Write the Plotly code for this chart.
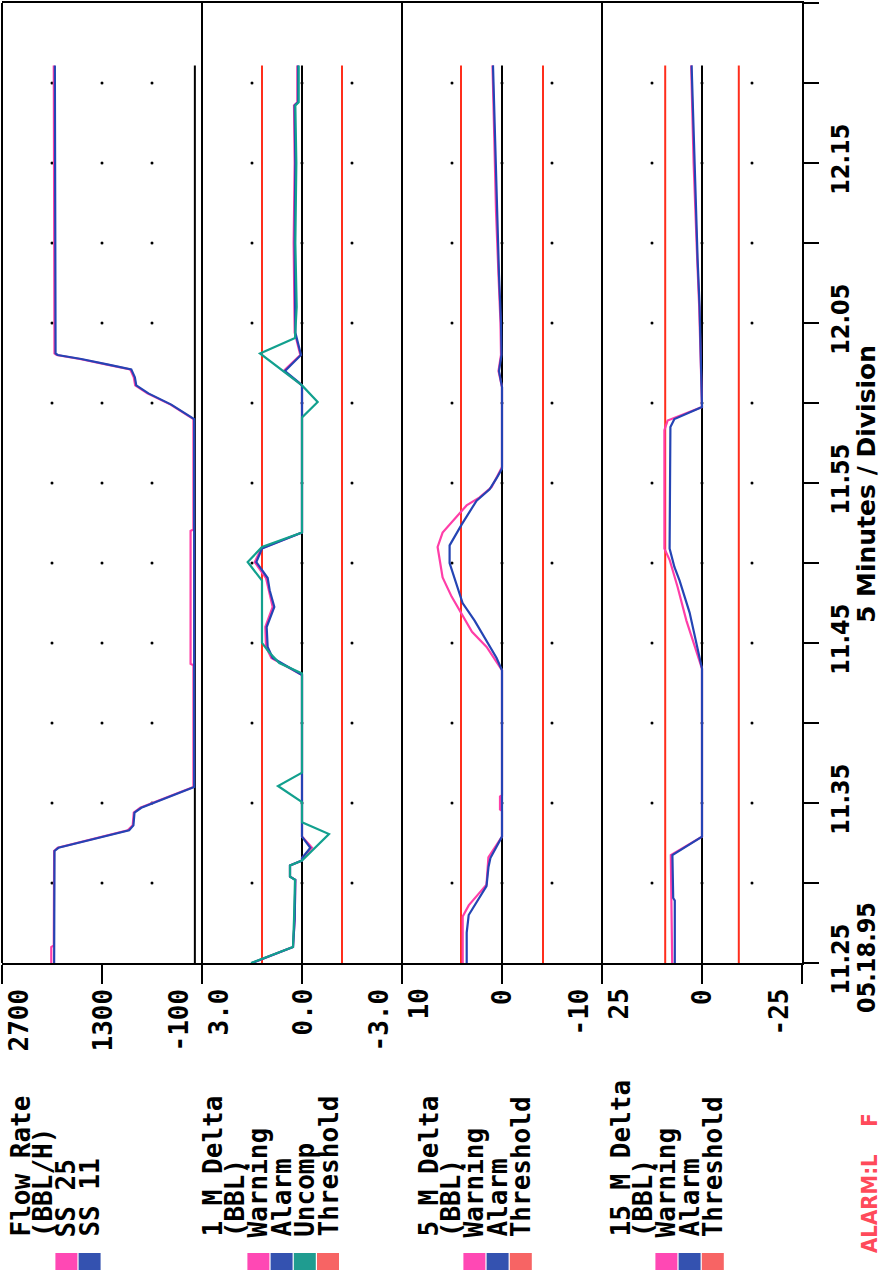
import pandas as pd
import plotly.graph_objects as go

# ---------------- data (time = minutes after 11:00 on 05.18.95) ----------------
flow_ss11_t = [25.0, 32.0, 32.2, 32.8, 33.3, 33.6, 34.4, 34.7, 35.2, 35.7, 36.0, 59.0, 59.9, 60.6,
               61.1, 61.6, 62.1, 62.4, 62.75, 63.0, 63.1, 81.1]
flow_ss11_v = [1970, 1965, 1910, 1380, 920, 860, 845, 750, 470, 190, 10, 10, 330, 650,
               820, 840, 890, 1210, 1590, 1920, 1950, 1960]
flow_ss25_t = [25.0, 26.0, 26.1, 32.0, 32.2, 32.8, 33.3, 33.6, 34.4, 34.7, 35.2, 35.7, 36.0, 43.6,
               43.7, 52.0, 52.1, 59.0, 59.9, 60.6, 61.1, 61.6, 62.1, 62.4, 62.75, 63.0, 63.1, 81.1]
flow_ss25_v = [2010, 2010, 1975, 1970, 1920, 1400, 940, 870, 855, 765, 480, 200, 20, 20,
               60, 60, 20, 20, 340, 665, 835, 855, 905, 1230, 1610, 1935, 1965, 1975]

d1_unc_t = [25.0, 26.0, 27.7, 30.2, 30.4, 31.1, 31.4, 33.06, 33.8, 35.06, 36.06, 36.9, 43.1, 43.75,
            44.4, 45.0, 48.9, 50.06, 51.0, 51.9, 59.1, 60.06, 61.1, 63.1, 64.06, 66.0, 70.0, 75.0,
            78.6, 78.8, 81.1]
d1_unc_v = [1.53, 0.27, 0.24, 0.21, 0.36, 0.36, 0.0, -0.81, 0.0, 0.0, 0.72, 0.0, 0.0, 0.68,
            0.98, 1.2, 1.2, 1.63, 1.2, 0.0, 0.0, -0.47, 0.0, 1.26, 0.21, 0.16, 0.2, 0.17,
            0.2, 0.1, 0.1]
d1_alarm_t = [25.0, 26.0, 27.7, 30.2, 30.4, 31.1, 31.4, 31.56, 32.2, 32.9, 43.0, 44.06, 44.75, 46.0,
              47.25, 48.3, 49.06, 50.06, 50.9, 51.9, 61.1, 61.3, 62.0, 63.0, 64.4, 70.0, 75.0,
              78.6, 78.8, 81.1]
d1_alarm_v = [1.5, 0.27, 0.22, 0.2, 0.36, 0.36, 0.0, 0.0, -0.25, 0.0, 0.0, 0.88, 1.03, 1.06,
              0.83, 0.97, 1.03, 1.37, 1.2, 0.0, 0.0, 0.1, 0.51, 0.03, 0.2, 0.22, 0.2,
              0.22, 0.12, 0.12]
d1_warn_t = [25.0, 26.0, 27.7, 30.2, 30.4, 31.1, 31.4, 31.56, 32.2, 32.9, 43.0, 44.06, 44.75, 46.0,
             47.25, 48.3, 49.06, 50.06, 50.9, 51.9, 61.1, 61.3, 62.0, 63.0, 64.4, 70.0, 75.0,
             78.6, 78.8, 81.1]
d1_warn_v = [1.5, 0.27, 0.22, 0.2, 0.36, 0.36, 0.0, 0.0, -0.3, 0.0, 0.0, 0.92, 1.08, 1.1,
             0.88, 1.0, 1.08, 1.42, 1.22, 0.0, 0.0, 0.12, 0.55, 0.05, 0.22, 0.25, 0.22,
             0.24, 0.14, 0.14]

d5_alarm_t = [25.0, 26.9, 28.0, 29.8, 31.0, 31.56, 32.9, 43.3, 44.06, 45.3, 46.4, 47.5, 48.1, 50.0,
              51.1, 52.4, 53.9, 54.6, 55.3, 55.9, 61.0, 62.0, 63.0, 65.0, 68.0, 72.0, 76.0, 79.0, 81.1]
d5_alarm_v = [3.53, 3.53, 3.33, 1.55, 1.35, 1.16, 0.0, 0.0, 0.54, 1.74, 2.74, 3.94, 4.24, 5.24,
              5.24, 4.04, 2.54, 1.24, 0.54, 0.0, 0.0, 0.3, 0.05, 0.1, 0.3, 0.5, 0.7, 0.8, 0.9]
d5_warn_t = [25.0, 27.9, 28.6, 29.9, 31.6, 32.9, 34.5, 34.6, 35.4, 35.5, 43.3, 44.75, 45.7, 47.06,
             47.9, 49.1, 51.0, 51.9, 52.9, 53.6, 54.1, 54.75, 55.7, 56.0, 61.0, 62.0, 63.0, 65.0,
             68.0, 72.0, 76.0, 79.0, 81.1]
d5_warn_v = [3.93, 3.93, 3.33, 1.55, 1.36, 0.0, 0.0, 0.2, 0.2, 0.0, 0.0, 1.54, 3.0, 4.24,
             5.04, 5.94, 6.44, 5.94, 4.54, 3.54, 2.24, 1.04, 0.24, 0.0, 0.0, 0.35, 0.1, 0.15,
             0.35, 0.6, 0.75, 0.85, 0.95]

d15_alarm_t = [25.0, 28.9, 29.06, 31.75, 32.9, 43.4, 46.9, 48.9, 49.75, 50.9, 58.5, 59.0, 59.75,
               63.0, 66.0, 69.0, 72.0, 75.0, 78.0, 81.1]
d15_alarm_v = [6.8, 6.8, 7.2, 7.4, 0.0, 0.0, 3.1, 5.6, 6.9, 8.1, 7.9, 6.9, 0.0,
               0.3, 0.6, 1.1, 1.5, 1.9, 2.3, 2.6]
d15_warn_t = [25.0, 30.6, 31.75, 32.9, 43.4, 46.4, 48.5, 50.2, 50.9, 58.3, 58.9, 59.75,
              63.0, 66.0, 69.0, 72.0, 75.0, 78.0, 81.1]
d15_warn_v = [7.45, 7.8, 7.8, 0.0, 0.0, 3.9, 6.1, 8.1, 9.4, 9.4, 8.6, 0.0,
              0.35, 0.7, 1.2, 1.7, 2.1, 2.4, 2.7]

data_span = [25.0, 81.1]
thresholds = [None, 1.2, 4.1, 9.2]

axis_ranges = [[2700, -100], [3.0, -3.0], [10, -10], [25, -25]]
axis_tickvals = [[2700, 1300, -100], [3.0, 0.0, -3.0], [10, 0, -10], [25, 0, -25]]
axis_ticktext = [["2700", "1300", "-100"], ["3.0", "0.0", "-3.0"], ["10", "0", "-10"], ["25", "0", "-25"]]
grid_vals = [[2000, 1300, 600], [1.5, 0.0, -1.5], [5, 0, -5], [12.5, 0, -12.5]]
grid_times = [30, 35, 40, 45, 50, 55, 60, 65, 70, 75, 80]

time_tickvals = [25, 30, 35, 40, 45, 50, 55, 60, 65, 70, 75, 80, 85]
time_ticktext = ["11.25", "", "11.35", "", "11.45", "", "11.55", "", "12.05", "", "12.15", "", ""]

legend_text = [["Flow Rate", "(BBL/H)", "SS 25", "SS 11"],
               ["1 M Delta", "(BBL)", "Warning", "Alarm", "Uncomp", "Threshold"],
               ["5 M Delta", "(BBL)", "Warning", "Alarm", "Threshold"],
               ["15 M Delta", "(BBL)", "Warning", "Alarm", "Threshold"]]

# ---------------- styling ----------------
PINK, BLUE, TEAL, RED = "#ff3ea8", "#2444b4", "#12a08e", "#ff2e1c"
SQ = {"pink": "#ff48b4", "blue": "#3452b0", "teal": "#1f9c90", "red": "#f76464"}
legend_sq = [["pink", "blue"], ["pink", "blue", "teal", "red"], ["pink", "blue", "red"], ["pink", "blue", "red"]]

W, H = 885, 1277
L, R, T, B = 2, 83, 3, 314
PW, PH = W - L - R, H - T - B
BASE = pd.Timestamp("1995-05-18 11:00")


def tm(mins):
    return [BASE + pd.Timedelta(minutes=m) for m in mins]


def px(x):
    return (x - L) / PW


def py(y):
    return (H - B - y) / PH


fig = go.Figure()
xr = ["x", "x2", "x3", "x4"]

series = [
    [(flow_ss25_t, flow_ss25_v, PINK), (flow_ss11_t, flow_ss11_v, BLUE)],
    [(d1_warn_t, d1_warn_v, PINK), (d1_alarm_t, d1_alarm_v, BLUE), (d1_unc_t, d1_unc_v, TEAL)],
    [(d5_warn_t, d5_warn_v, PINK), (d5_alarm_t, d5_alarm_v, BLUE)],
    [(d15_warn_t, d15_warn_v, PINK), (d15_alarm_t, d15_alarm_v, BLUE)],
]

for i in range(4):
    gx = [v for _ in grid_times for v in grid_vals[i]]
    gy = tm([t for t in grid_times for _ in grid_vals[i]])
    fig.add_trace(go.Scatter(x=gx, y=gy, mode="markers", xaxis=xr[i], yaxis="y",
                             marker=dict(size=3, color="black"), hoverinfo="skip"))
    fig.add_trace(go.Scatter(x=[0, 0], y=tm(data_span), mode="lines", xaxis=xr[i], yaxis="y",
                             line=dict(color="black", width=2)))
    if thresholds[i] is not None:
        for s in (1, -1):
            fig.add_trace(go.Scatter(x=[s * thresholds[i]] * 2, y=tm(data_span), mode="lines",
                                     xaxis=xr[i], yaxis="y", line=dict(color=RED, width=2)))
    for t, v, c in series[i]:
        fig.add_trace(go.Scatter(x=v, y=tm(t), mode="lines", xaxis=xr[i], yaxis="y",
                                 line=dict(color=c, width=2.2)))

mono = dict(family="DejaVu Sans Mono", size=26, color="black", weight="bold")
cond = dict(family="DejaVu Sans Condensed, DejaVu Sans", size=25, color="black", weight="bold")

layout = dict(
    width=W, height=H, margin=dict(l=L, r=R, t=T, b=B),
    paper_bgcolor="white", plot_bgcolor="white", showlegend=False,
    yaxis=dict(type="date", range=tm([25, 85]), tickvals=tm(time_tickvals), ticktext=time_ticktext,
               side="right", anchor="x4", ticks="outside", ticklen=15, tickwidth=2, tickcolor="black",
               showline=True, linewidth=2, linecolor="black", tickangle=-90, tickfont=cond,
               showgrid=False, zeroline=False),
)
for i in range(4):
    layout["xaxis" if i == 0 else f"xaxis{i+1}"] = dict(
        domain=[i / 4, (i + 1) / 4], range=axis_ranges[i], tickvals=axis_tickvals[i],
        ticks="outside", ticklen=19, tickwidth=2, tickcolor="black", showticklabels=False,
        showline=True, linewidth=2, linecolor="black", mirror=True, showgrid=False,
        zeroline=False, anchor="y")

shapes = []
for i in range(4):
    shapes.append(dict(type="line", xref="paper", yref="paper", x0=i / 4, x1=i / 4, y0=0, y1=1,
                       line=dict(color="black", width=2)))

annotations = []
for i in range(4):
    for j, (v, txt) in enumerate(zip(axis_tickvals[i], axis_ticktext[i])):
        annotations.append(dict(x=v, xref=xr[i], y=py(988), yref="paper", text=txt, textangle=-90,
                                xanchor=["left", "center", "right"][j], yanchor="top",
                                xshift=[0, 0, -8][j], showarrow=False, font=mono, borderpad=0))

first_line = [20, 212, 428, 620]
pitch = 23.2
for g, lines in enumerate(legend_text):
    for k, txt in enumerate(lines):
        cx = first_line[g] + k * pitch
        annotations.append(dict(x=px(cx), xref="paper", y=py(1238), yref="paper", text=txt,
                                textangle=-90, xanchor="center", yanchor="bottom", showarrow=False,
                                font=mono, borderpad=0))
    for k, col in enumerate(legend_sq[g]):
        cx = first_line[g] + (k + 2) * pitch
        shapes.append(dict(type="rect", xref="paper", yref="paper", x0=px(cx - 11), x1=px(cx + 11),
                           y0=py(1270), y1=py(1253), fillcolor=SQ[col], line=dict(width=0)))

annotations.append(dict(x=px(866), xref="paper", y=py(958), yref="paper", text="05.18.95",
                        textangle=-90, xanchor="center", yanchor="middle", showarrow=False,
                        font=cond, borderpad=0))
annotations.append(dict(x=px(867), xref="paper", y=py(484), yref="paper", text="5 Minutes / Division",
                        textangle=-90, xanchor="center", yanchor="middle", showarrow=False,
                        font=dict(family="DejaVu Sans", size=25, color="black", weight="bold"),
                        borderpad=0))
annotations.append(dict(x=px(869), xref="paper", y=py(1254), yref="paper",
                        text="ALARM:L\u00a0\u00a0\u00a0\u00a0F",
                        textangle=-90, xanchor="center", yanchor="bottom", showarrow=False,
                        font=dict(family="DejaVu Sans Condensed, DejaVu Sans", size=22, color="#ff4a5a",
                                  weight="bold"),
                        borderpad=0))

layout["shapes"] = shapes
layout["annotations"] = annotations
fig.update_layout(**layout)
fig.write_html("out.html")
